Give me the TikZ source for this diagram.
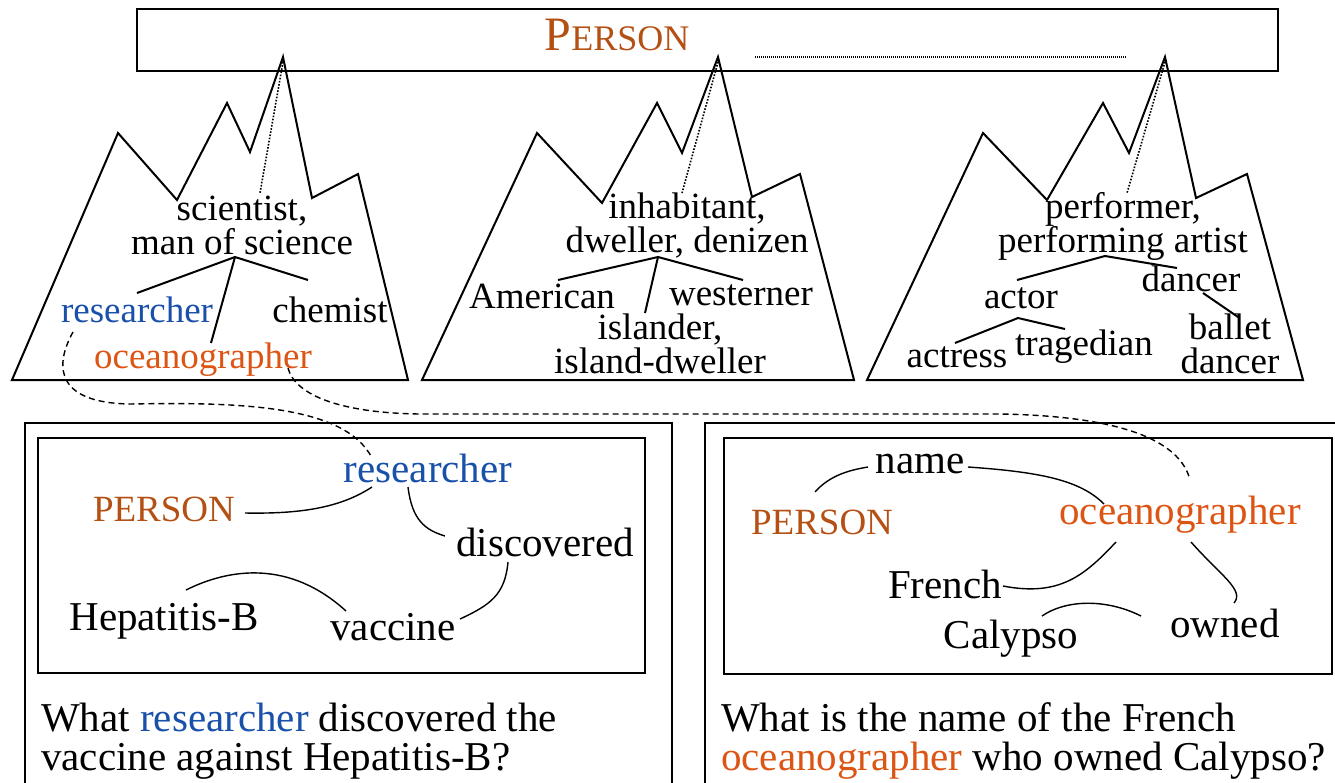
\documentclass[tikz,border=0pt]{standalone}
\usepackage{fontspec}
\setmainfont{Liberation Serif}
\definecolor{rblue}{RGB}{25,80,170}
\definecolor{rorange}{RGB}{220,85,20}
\definecolor{rbrown}{RGB}{180,80,20}
\tikzset{
  mtn/.style={draw, line width=2pt, line join=miter},
  treeline/.style={line width=2pt},
  mlab/.style={inner sep=0pt, font=\fontsize{37}{34}\selectfont, anchor=base, align=center},
  glab/.style={inner sep=0pt, font=\fontsize{41}{40}\selectfont, anchor=base},
  plab/.style={inner sep=0pt, font=\fontsize{37}{36}\selectfont, anchor=base, text=rbrown},
  qlab/.style={inner sep=0pt, font=\fontsize{41}{39}\selectfont, anchor=base west, align=left},
  link/.style={line width=1.4pt},
  xlink/.style={line width=1.4pt, dash pattern=on 6pt off 4pt},
  peakdot/.style={line width=1.6pt, dash pattern=on 1.6pt off 1.6pt},
  frame/.style={line width=1.6pt},
}
\begin{document}
\begin{tikzpicture}[x=1pt,y=-1pt]
\useasboundingbox (0,0) rectangle (1335,782);
\begin{scope}
\clip (0,0) rectangle (1335,782);
% top box
\node[draw, frame, minimum width=1141pt, minimum height=62pt, inner sep=0pt, anchor=north west] (top) at (136,8) {};
\node[inner sep=0pt, anchor=base, text=rbrown] (toplab) at (617,50) {{\fontsize{48}{48}\selectfont P}{\fontsize{36}{36}\selectfont ERSON}};
\coordinate (dl1) at (755,57);
\coordinate (dl2) at (1127,57);
\draw[line width=1.2pt, dash pattern=on 1pt off 1pt] (dl1) -- (dl2);

% mountains
\draw[mtn] (12,380) -- (118,133) -- (177,200) -- (227,103) -- (250,152) -- (283,57) -- (312,198) -- (358,174) -- (408,380) -- cycle;
\draw[mtn] (422,380) -- (537,133) -- (602,203) -- (657,103) -- (682,153) -- (718,57) -- (752,197) -- (800,174) -- (854,380) -- cycle;
\draw[mtn] (867,380) -- (983,133) -- (1047,200) -- (1103,103) -- (1129,153) -- (1165,57) -- (1196,198) -- (1247,174) -- (1303,380) -- cycle;
\coordinate (pk1) at (283,62);
\coordinate (pk2) at (718,62);
\coordinate (pk3) at (1165,62);

% left mountain labels
\node[mlab] (sci) at (242,254) {scientist,\\man of science};
\node[mlab, text=rblue] (res1) at (137,322) {researcher};
\node[mlab] (chem) at (330,322) {chemist};
\node[mlab, text=rorange] (oce1) at (203,368) {oceanographer};
\coordinate (sciT) at (260,193);
\coordinate (sciB) at (235,257);
\coordinate (res1T) at (137,293);
\coordinate (chemT) at (308,280);
\coordinate (oce1T) at (211,343);
\draw[peakdot] (pk1) -- (sciT);
\draw[treeline] (res1T) -- (sciB) -- (chemT);
\draw[treeline] (sciB) -- (oce1T);

% middle mountain labels
\node[mlab] (inh) at (687,252) {inhabitant,\\dweller, denizen};
\node[mlab] (amer) at (542,308) {American};
\node[mlab] (west) at (741,305) {westerner};
\node[mlab] (isl) at (660,373) {islander,\\island-dweller};
\coordinate (inhT) at (682,193);
\coordinate (inhB) at (658,257);
\coordinate (amerT) at (558,280);
\coordinate (westT) at (743,280);
\coordinate (islT) at (645,313);
\draw[peakdot] (pk2) -- (inhT);
\draw[treeline] (amerT) -- (inhB) -- (westT);
\draw[treeline] (inhB) -- (islT);

% right mountain labels
\node[mlab] (perf) at (1123,252) {performer,\\performing artist};
\node[mlab] (dan) at (1191,291) {dancer};
\node[mlab] (act) at (1021,308) {actor};
\node[mlab] (bal) at (1230,373) {ballet\\dancer};
\node[mlab] (actr) at (957,367) {actress};
\node[mlab] (trag) at (1084,355) {tragedian};
\coordinate (perfT) at (1127,193);
\coordinate (perfB) at (1105,256);
\coordinate (actT) at (1017,280);
\coordinate (danT) at (1177,268);
\coordinate (danB) at (1203,293);
\coordinate (balT) at (1238,317);
\coordinate (actB) at (1018,318);
\coordinate (actrT) at (955,343);
\coordinate (tragT) at (1065,329);
\draw[peakdot] (pk3) -- (perfT);
\draw[treeline] (actT) -- (perfB) -- (danT);
\draw[treeline] (danB) -- (balT);
\draw[treeline] (actrT) -- (actB) -- (tragT);

% bottom frames
\draw[frame] (25,795) -- (25,423) -- (672,423) -- (672,795);
\draw[frame] (705,795) -- (705,423) -- (1345,423);
\node[draw, frame, minimum width=607pt, minimum height=235pt, inner sep=0pt, anchor=north west] (lbox) at (37,437) {};
\node[draw, frame, minimum width=608pt, minimum height=236pt, inner sep=0pt, anchor=north west] (rbox) at (723,437) {};

% left graph
\node[glab, text=rblue] (res2) at (428,482) {researcher};
\node[plab] (per2) at (164,521) {PERSON};
\node[glab] (disc) at (545,556) {discovered};
\node[glab] (hep) at (164,630) {Hepatitis-B};
\node[glab] (vac) at (393,640) {vaccine};
\coordinate (a1) at (245,513);
\coordinate (a2) at (372,487);
\coordinate (a3) at (408,487);
\coordinate (a4) at (445,536);
\coordinate (a5) at (508,562);
\coordinate (a6) at (460,619);
\coordinate (a7) at (186,590);
\coordinate (a8) at (346,611);
\draw[link] (a1) .. controls (300,514) and (340,508) .. (a2);
\draw[link] (a3) .. controls (412,520) and (425,530) .. (a4);
\draw[link] (a5) .. controls (505,595) and (490,605) .. (a6);
\draw[link] (a7) .. controls (230,568) and (290,560) .. (a8);
\node[qlab] (q1) at (41,770) {What \textcolor{rblue}{researcher} discovered the\\vaccine against Hepatitis-B?};

% right graph
\node[glab] (nam) at (920,473) {name};
\node[plab] (per3) at (822,534) {PERSON};
\node[glab, text=rorange] (oce2) at (1180,524) {oceanographer};
\node[glab] (fre) at (945,598) {French};
\node[glab] (cal) at (1011,648) {Calypso};
\node[glab] (own) at (1225,637) {owned};
\coordinate (b1) at (815,492);
\coordinate (b2) at (868,467);
\coordinate (b3) at (968,467);
\coordinate (b4) at (1104,504);
\coordinate (b5) at (1116,542);
\coordinate (b6) at (1003,586);
\coordinate (b7) at (1191,542);
\coordinate (b8) at (1234,603);
\coordinate (b9) at (1042,616);
\coordinate (b10) at (1141,616);
\draw[link] (b1) .. controls (830,475) and (850,470) .. (b2);
\draw[link] (b3) .. controls (1040,472) and (1080,480) .. (b4);
\draw[link] (b6) .. controls (1060,597) and (1085,575) .. (b5);
\draw[link] (b7) .. controls (1220,575) and (1245,590) .. (b8);
\draw[link] (b9) .. controls (1065,600) and (1105,598) .. (b10);
\node[qlab] (q2) at (721,770) {What is the name of the French\\\textcolor{rorange}{oceanographer} who owned Calypso?};

% dashed cross links
\coordinate (d1) at (73,332);
\coordinate (d2) at (130,404);
\coordinate (d3) at (372,458);
\draw[xlink] (d1) .. controls (52,370) and (60,403) .. (d2) .. controls (240,402) and (345,405) .. (d3);
\coordinate (e1) at (288,368);
\coordinate (e2) at (420,414);
\coordinate (e3) at (1000,414);
\coordinate (e4) at (1190,480);
\draw[xlink] (e1) .. controls (295,395) and (340,413) .. (e2) -- (e3) .. controls (1120,416) and (1180,440) .. (e4);
\end{scope}
\end{tikzpicture}
\end{document}
